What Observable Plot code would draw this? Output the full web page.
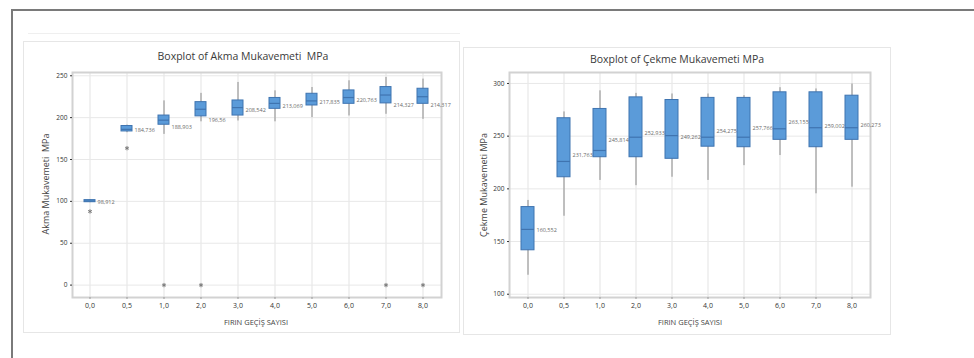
<!DOCTYPE html>
<html>
<head>
<meta charset="utf-8">
<script src="https://cdn.jsdelivr.net/npm/d3@7"></script>
<script src="https://cdn.jsdelivr.net/npm/@observablehq/plot@0.6"></script>
<style>
  body { margin: 0; background: #fff; }
  #wrap { position: relative; width: 974px; height: 358px; overflow: hidden; font-family: "Open Sans", "Liberation Sans", sans-serif; }
  .abs { position: absolute; }
  .panel { position: absolute; border: 1px solid #e6e6e6; box-sizing: border-box; }
  .title { position: absolute; font-size: 10.5px; color: #3a3a3a; white-space: nowrap; transform: translateX(-50%); }
  .xt { position: absolute; font-size: 7.5px; color: #444; white-space: nowrap; transform: translate(-50%, -50%); }
  .yt { position: absolute; font-size: 9px; color: #444; white-space: nowrap; transform: translate(-50%, -50%) rotate(-90deg); }
</style>
</head>
<body>
<div id="wrap">
  <div class="abs" style="left:11px;top:9px;width:980px;height:360px;border-top:2px solid #7a7a7a;border-left:2px solid #7a7a7a;"></div>
  <div class="abs" style="left:28px;top:33px;width:432px;height:1px;background:#efefef;"></div>
  <div class="panel" style="left:23px;top:41px;width:437px;height:292px;"></div>
  <div class="panel" style="left:463px;top:47px;width:428px;height:288px;"></div>
  <div id="left" class="abs" style="left:0;top:0;"></div>
  <div id="right" class="abs" style="left:470px;top:0;"></div>
  <div class="title" style="left:243px;top:49px;">Boxplot of Akma Mukavemeti&nbsp; MPa</div>
  <div class="title" style="left:677px;top:52px;">Boxplot of Çekme Mukavemeti MPa</div>
  <div class="yt" style="left:45px;top:184px;">Akma Mukavemeti&nbsp; MPa</div>
  <div class="yt" style="left:483px;top:185px;">Çekme Mukavemeti MPa</div>
  <div class="xt" style="left:256px;top:322px;">FIRIN GEÇİŞ SAYISI</div>
  <div class="xt" style="left:690px;top:322px;">FIRIN GEÇİŞ SAYISI</div>
</div>
<script>
// ---- data ----
const categories = ["0,0", "0,5", "1,0", "2,0", "3,0", "4,0", "5,0", "6,0", "7,0", "8,0"];

// Akma Mukavemeti MPa
const akmaLow    = [98.5, 182, 180, 195, 196, 195, 200, 202, 204, 198];
const akmaQ1     = [99, 183.5, 191.5, 201.5, 202.5, 210.5, 214.5, 216.5, 217, 216.5];
const akmaMedian = [100.5, 186, 197, 210, 212, 217, 220, 224, 227, 225];
const akmaQ3     = [101.5, 190, 202.5, 218.5, 220.5, 223.5, 228.5, 232.5, 236.5, 234.5];
const akmaHigh   = [102, 191, 220, 229, 242, 232, 236, 244, 248, 246];
const akmaMeans  = [98.912, 184.736, 188.903, 196.56, 208.542, 213.069, 217.835, 220.763, 214.327, 214.317];
const akmaOutlierCats   = ["0,0", "0,5", "1,0", "2,0", "7,0", "8,0"];
const akmaOutlierValues = [88, 163.5, 0, 0, 0, 0];
const akmaTicks = [0, 50, 100, 150, 200, 250];

// Çekme Mukavemeti MPa
const cekmeLow    = [118, 174, 208, 203, 211, 208, 222, 231.6, 195.3, 201.6];
const cekmeQ1     = [141.7, 211, 230, 230, 228.5, 240, 239.5, 246.5, 239.5, 246.5];
const cekmeMedian = [161.5, 226, 236.4, 249, 250.5, 249, 249, 257, 258, 258];
const cekmeQ3     = [182.7, 267, 275.8, 286.8, 284.3, 286.3, 286.3, 291.6, 291.6, 288.4];
const cekmeHigh   = [189, 273, 293, 290.6, 290, 290, 288.4, 296, 294.8, 299.5];
const cekmeMeans  = [160.552, 231.763, 245.814, 252.933, 249.262, 254.275, 257.766, 263.155, 259.002, 260.273];
const cekmeTicks = [100, 150, 200, 250, 300];

// ---- helpers ----
const trLocale = d3.formatLocale({decimal: ",", thousands: ".", grouping: [3], currency: ["", ""]});
const fmt = trLocale.format(".3~f");
const fmtTick = trLocale.format("d");

function rowsOf(low, q1, med, q3, high, means) {
  return categories.map((c, i) => ({cat: c, low: low[i], q1: q1[i], med: med[i], q3: q3[i], high: high[i], mean: means[i]}));
}

const FONT = "Open Sans, Liberation Sans, sans-serif";
const BOX_FILL = "#5b9bd9";
const BOX_STROKE = "#3f74b0";

function panel({rows, outliers, yDomain, yTicks, width, marginLeft, marginRight, paddingInner, paddingOuter, labelDx}) {
  return Plot.plot({
    width, height: 358,
    marginLeft, marginRight, marginTop: 72, marginBottom: 61,
    style: {fontFamily: FONT, background: "transparent", overflow: "visible"},
    x: {type: "band", domain: categories, paddingInner, paddingOuter},
    y: {domain: yDomain},
    marks: [
      Plot.gridX(categories, {stroke: "#e3e3e3", strokeOpacity: 1}),
      Plot.gridY(yTicks, {stroke: "#e8e8e8", strokeOpacity: 1}),
      Plot.frame({stroke: "#d2d2d2", strokeWidth: 2}),
      Plot.ruleX(rows, {x: "cat", y1: "low", y2: "high", stroke: "#8c8c8c", strokeWidth: 1}),
      Plot.barY(rows, {x: "cat", y1: "q1", y2: "q3", fill: BOX_FILL, stroke: BOX_STROKE, strokeWidth: 1}),
      Plot.tickY(rows, {x: "cat", y: "med", stroke: BOX_STROKE, strokeWidth: 1.2}),
      outliers.length ? Plot.dot(outliers, {x: "cat", y: "value", symbol: "asterisk", r: 2, stroke: "#7a7a7a", strokeWidth: 1}) : null,
      Plot.text(rows, {x: "cat", y: "mean", text: d => fmt(d.mean), dx: labelDx, textAnchor: "start", fontSize: 5.5, fill: "#6a6a6a"}),
      Plot.axisX({tickSize: 2, tickPadding: 4, fontSize: 7, color: "#333", stroke: "#999", label: null}),
      Plot.axisY({ticks: yTicks, tickFormat: fmtTick, tickSize: 2, tickPadding: 3, fontSize: 6.5, color: "#333", label: null})
    ]
  });
}

const akmaRows = rowsOf(akmaLow, akmaQ1, akmaMedian, akmaQ3, akmaHigh, akmaMeans);
const akmaOut = akmaOutlierCats.map((c, i) => ({cat: c, value: akmaOutlierValues[i]}));
const cekmeRows = rowsOf(cekmeLow, cekmeQ1, cekmeMedian, cekmeQ3, cekmeHigh, cekmeMeans);

document.getElementById("left").append(panel({
  rows: akmaRows, outliers: akmaOut, yDomain: [-14.8, 253.9], yTicks: akmaTicks,
  width: 470, marginLeft: 72, marginRight: 29,
  paddingInner: 0.7, paddingOuter: 0.3, labelDx: 7.5
}));
document.getElementById("right").append(panel({
  rows: cekmeRows, outliers: [], yDomain: [96.9, 310.4], yTicks: cekmeTicks,
  width: 430, marginLeft: 39, marginRight: 30,
  paddingInner: 0.63, paddingOuter: 0.293, labelDx: 8.5
}));
</script>
</body>
</html>
